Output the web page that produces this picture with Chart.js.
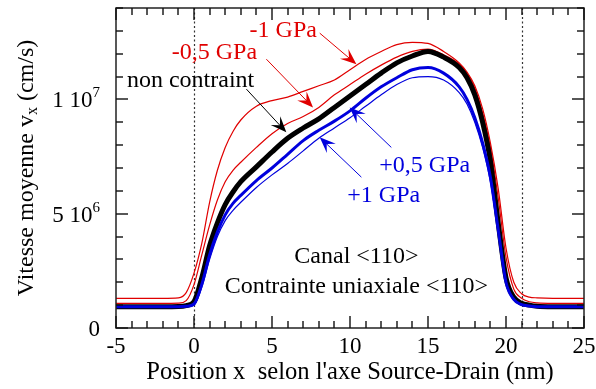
<!DOCTYPE html>
<html>
<head>
<meta charset="utf-8">
<script src="https://cdn.jsdelivr.net/npm/chart.js@4.4.0/dist/chart.umd.min.js"></script>
<style>
  html, body { margin: 0; padding: 0; background: #fff; }
  #wrap { width: 596px; height: 389px; }
</style>
</head>
<body>
<div id="wrap"><canvas id="myChart" width="596" height="389"></canvas></div>
<script>
// position along source-drain (nm)
var positions = [-5, -2, -1, -0.5, 0, 0.5, 1, 1.5, 2, 2.5, 3, 4, 5, 6, 7, 8, 9, 10, 11, 12, 13, 14, 15, 16, 17, 17.5, 18, 18.5, 19, 19.5, 20, 20.5, 21, 21.5, 22, 23, 25];

// mean velocity, in units of 10^6 cm/s
var vMoins1 = [1.3, 1.3, 1.32, 1.55, 2.4, 3.7, 5.5, 6.9, 7.9, 8.6, 9.1, 9.7, 9.95, 10.1, 10.35, 10.6, 10.85, 11.3, 11.75, 12.1, 12.4, 12.5, 12.45, 12.1, 11.6, 11.2, 10.6, 9.6, 8.1, 6.1, 3.5, 2.0, 1.5, 1.35, 1.32, 1.3, 1.3];
var vMoins05 = [1.08, 1.08, 1.09, 1.2, 1.9, 3.2, 4.5, 5.6, 6.4, 6.9, 7.25, 7.9, 8.5, 8.95, 9.25, 9.65, 10.2, 10.65, 11.1, 11.5, 11.85, 12.1, 12.2, 11.95, 11.55, 11.15, 10.5, 9.4, 7.9, 5.7, 3.1, 1.7, 1.3, 1.15, 1.1, 1.08, 1.08];
var vNonContraint = [0.93, 0.93, 0.94, 0.98, 1.15, 2.2, 3.6, 4.6, 5.4, 5.95, 6.4, 7.05, 7.7, 8.3, 8.75, 9.15, 9.65, 10.15, 10.65, 11.15, 11.6, 11.9, 12.1, 11.85, 11.4, 10.95, 10.2, 9.0, 7.3, 4.6, 2.2, 1.35, 1.08, 1.0, 0.95, 0.93, 0.93];
var vPlus05 = [0.93, 0.93, 0.93, 0.95, 1.05, 1.9, 3.2, 4.2, 4.95, 5.45, 5.8, 6.45, 7.0, 7.6, 8.2, 8.65, 9.05, 9.5, 10.05, 10.55, 10.95, 11.3, 11.4, 11.15, 10.55, 10.0, 9.2, 8.1, 6.6, 4.3, 2.0, 1.25, 1.02, 0.96, 0.93, 0.93, 0.93];
var vPlus1 = [0.93, 0.93, 0.93, 0.94, 1.0, 1.8, 3.0, 4.0, 4.7, 5.15, 5.5, 6.15, 6.7, 7.2, 7.75, 8.3, 8.75, 9.2, 9.7, 10.2, 10.65, 10.95, 11.0, 10.85, 10.3, 9.8, 9.0, 7.9, 6.4, 4.2, 2.0, 1.25, 1.0, 0.95, 0.93, 0.93, 0.93];

// y tick labels: mantissa, power of ten, exponent
var yTickLabels = { 0: ['0', '', ''], 5: ['5 ', '10', '6'], 10: ['1 ', '10', '7'] };
var xTitle = "Position x  selon l'axe Source-Drain (nm)";

// dotted lines at source and drain
var jonctions = [0, 21];

// labels and arrows, in data units
var notes = [
  { text: '-1 GPa', color: '#e00000', x: 5.72, y: 12.99, from: [8.06, 12.9], to: [10.41, 11.54] },
  { text: '-0,5 GPa', color: '#e00000', x: 1.31, y: 12.04, from: [4.64, 11.76], to: [7.63, 9.65] },
  { text: 'non contraint', color: '#000', x: -0.22, y: 10.81, from: [3.36, 10.45], to: [5.92, 8.56] },
  { text: '+0,5 GPa', color: '#0000dd', x: 14.79, y: 7.1, from: [12.65, 7.9], to: [9.98, 9.65] },
  { text: '+1 GPa', color: '#0000dd', x: 12.16, y: 5.8, from: [10.73, 6.6], to: [8.06, 8.34] },
  { text: 'Canal <110>', color: '#000', x: 10.41, y: 3.11 },
  { text: 'Contrainte uniaxiale <110>', color: '#000', x: 10.41, y: 1.8 }
];

var FONT = 'Liberation Serif';

function pts(v) {
  return positions.map(function (p, i) { return { x: p, y: v[i] }; });
}

function arrow(ctx, x1, y1, x2, y2, color) {
  var a = Math.atan2(y2 - y1, x2 - x1);
  var L = 16, W = 6.5;
  ctx.strokeStyle = color;
  ctx.fillStyle = color;
  ctx.lineWidth = 1;
  ctx.beginPath();
  ctx.moveTo(x1, y1);
  ctx.lineTo(x2 - Math.cos(a) * 9, y2 - Math.sin(a) * 9);
  ctx.stroke();
  ctx.save();
  ctx.translate(x2, y2);
  ctx.rotate(a);
  ctx.beginPath();
  ctx.moveTo(0, 0);
  ctx.lineTo(-L, -W);
  ctx.lineTo(-L * 0.6, 0);
  ctx.lineTo(-L, W);
  ctx.closePath();
  ctx.fill();
  ctx.restore();
}

var decor = {
  id: 'decor',
  beforeDatasetsDraw: function (chart) {
    var ctx = chart.ctx, xs = chart.scales.x, a = chart.chartArea;
    ctx.save();
    ctx.strokeStyle = '#333';
    ctx.lineWidth = 1.2;
    ctx.setLineDash([2, 2.5]);
    jonctions.forEach(function (j) {
      var px = Math.round(xs.getPixelForValue(j)) + 0.5;
      ctx.beginPath();
      ctx.moveTo(px, a.top);
      ctx.lineTo(px, a.bottom);
      ctx.stroke();
    });
    ctx.restore();
  },
  afterDraw: function (chart) {
    var ctx = chart.ctx, xs = chart.scales.x, ys = chart.scales.y, a = chart.chartArea;
    ctx.save();
    ctx.setLineDash([]);
    // frame
    ctx.strokeStyle = '#222';
    ctx.lineWidth = 1.5;
    ctx.strokeRect(a.left, a.top, a.right - a.left, a.bottom - a.top);
    // inward ticks, long on the labelled values
    ctx.fillStyle = '#111';
    var t, len, px, py;
    for (t = -5; t <= 25; t++) {
      px = Math.round(xs.getPixelForValue(t));
      len = (t + 5) % 5 === 0 ? 12 : 7;
      ctx.fillRect(px - 0.7, a.bottom - len, 1.4, len);
      ctx.fillRect(px - 0.7, a.top, 1.4, len);
    }
    for (t = 0; t <= 14; t++) {
      py = Math.round(ys.getPixelForValue(t));
      len = t % 5 === 0 ? 12 : 7;
      ctx.fillRect(a.left, py - 0.7, len, 1.4);
      ctx.fillRect(a.right - len, py - 0.7, len, 1.4);
    }

    // y tick labels with superscript exponent
    ctx.fillStyle = '#000';
    ctx.textBaseline = 'alphabetic';
    ctx.textAlign = 'left';
    Object.keys(yTickLabels).forEach(function (k) {
      var parts = yTickLabels[k];
      var yy = ys.getPixelForValue(+k);
      ctx.font = '23px "' + FONT + '"';
      var w1 = ctx.measureText(parts[0] + parts[1]).width;
      ctx.font = '15px "' + FONT + '"';
      var w2 = ctx.measureText(parts[2]).width;
      var x0 = a.left - 16 - w1 - w2;
      ctx.font = '23px "' + FONT + '"';
      ctx.fillText(parts[0] + parts[1], x0, yy + 8);
      ctx.font = '15px "' + FONT + '"';
      ctx.fillText(parts[2], x0 + w1, yy - 2);
    });

    // notes
    ctx.font = '24px "' + FONT + '"';
    ctx.textAlign = 'center';
    ctx.textBaseline = 'middle';
    notes.forEach(function (n) {
      ctx.fillStyle = n.color;
      ctx.fillText(n.text, xs.getPixelForValue(n.x), ys.getPixelForValue(n.y));
      if (n.from) {
        arrow(ctx, xs.getPixelForValue(n.from[0]), ys.getPixelForValue(n.from[1]),
          xs.getPixelForValue(n.to[0]), ys.getPixelForValue(n.to[1]), n.color);
      }
    });

    // axis titles
    ctx.fillStyle = '#000';
    ctx.font = '24.6px "' + FONT + '"';
    ctx.fillText(xTitle, (a.left + a.right) / 2, 373);

    ctx.translate(27, (a.top + a.bottom) / 2);
    ctx.rotate(-Math.PI / 2);
    var p1 = 'Vitesse moyenne v', p2 = 'x', p3 = ' (cm/s)';
    ctx.font = '24px "' + FONT + '"';
    var w1 = ctx.measureText(p1).width, w3 = ctx.measureText(p3).width;
    ctx.font = '16px "' + FONT + '"';
    var w2 = ctx.measureText(p2).width;
    var x0 = -(w1 + w2 + w3) / 2;
    ctx.textAlign = 'left';
    ctx.font = '24px "' + FONT + '"';
    ctx.fillText(p1, x0, 0);
    ctx.font = '16px "' + FONT + '"';
    ctx.fillText(p2, x0 + w1, 6);
    ctx.font = '24px "' + FONT + '"';
    ctx.fillText(p3, x0 + w1 + w2, 0);
    ctx.restore();
  }
};

var ctx = document.getElementById('myChart').getContext('2d');
var myChart = new Chart(ctx, {
  type: 'line',
  data: {
    datasets: [{
      label: '+1 GPa',
      data: pts(vPlus1),
      borderColor: '#0000dd',
      borderWidth: 1.2,
      pointRadius: 0
    }, {
      label: '+0,5 GPa',
      data: pts(vPlus05),
      borderColor: '#0000dd',
      borderWidth: 3,
      pointRadius: 0
    }, {
      label: 'non contraint',
      data: pts(vNonContraint),
      borderColor: '#000',
      borderWidth: 5,
      pointRadius: 0
    }, {
      label: '-0,5 GPa',
      data: pts(vMoins05),
      borderColor: '#e00000',
      borderWidth: 1.2,
      pointRadius: 0
    }, {
      label: '-1 GPa',
      data: pts(vMoins1),
      borderColor: '#e00000',
      borderWidth: 1.2,
      pointRadius: 0
    }]
  },
  options: {
    responsive: false,
    animation: false,
    layout: { padding: { top: 8, right: 12, left: 0, bottom: 0 } },
    plugins: {
      legend: { display: false },
      tooltip: { enabled: false }
    },
    elements: {
      line: { cubicInterpolationMode: 'monotone' }
    },
    scales: {
      x: {
        type: 'linear',
        min: -5,
        max: 25,
        border: { display: false },
        grid: { display: false, drawTicks: false },
        ticks: {
          stepSize: 5,
          padding: 5,
          color: '#000',
          maxRotation: 0,
          font: { family: FONT, size: 23 }
        },
        afterFit: function (s) {
          s.height = 61;
          s.paddingLeft = 0;
          s.paddingRight = 0;
        }
      },
      y: {
        min: 0,
        max: 14,
        border: { display: false },
        grid: { display: false, drawTicks: false },
        ticks: {
          stepSize: 1,
          display: false
        },
        afterFit: function (s) {
          s.width = 116;
          s.paddingTop = 0;
          s.paddingBottom = 0;
        }
      }
    }
  },
  plugins: [decor]
});
</script>
</body>
</html>
